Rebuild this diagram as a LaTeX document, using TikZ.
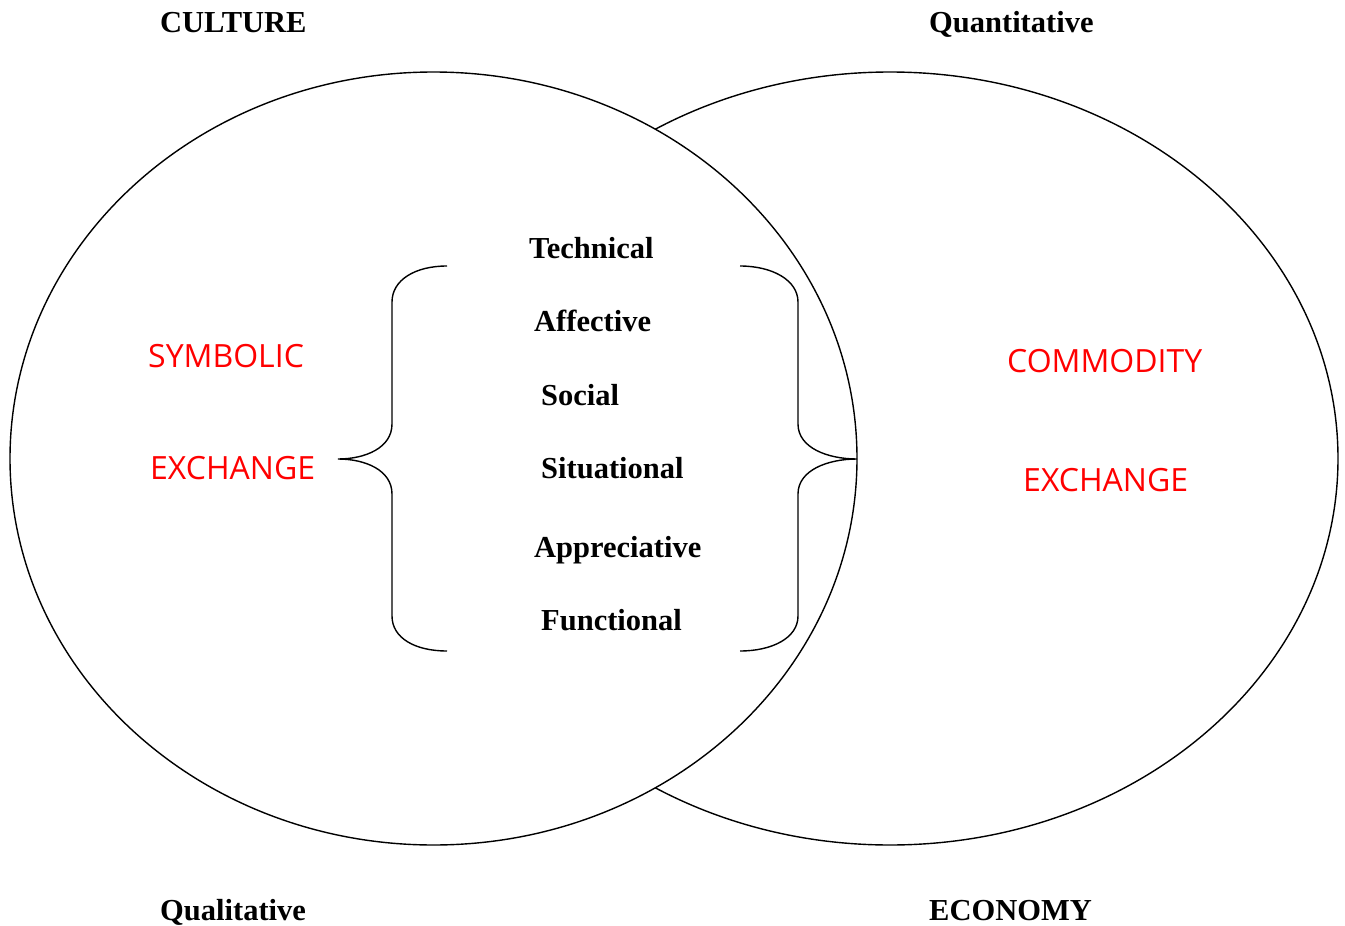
\documentclass[tikz,border=0pt]{standalone}
\usepackage{fontspec}
\setmainfont{Liberation Serif}
\newfontfamily\handfont{Open Sans}
\begin{document}
\begin{tikzpicture}[x=1pt,y=-1pt,
  lbl/.style={anchor=base west,inner sep=0pt,font=\bfseries\fontsize{30.5}{34}\selectfont},
  red lbl/.style={anchor=base west,inner sep=0pt,text=red,font=\handfont\fontsize{32}{36}\selectfont},
  bracestroke/.style={draw=black,line width=1.4pt}]
\useasboundingbox (0,0) rectangle (1345,926);
% economy circle behind, culture circle in front
\draw[line width=1.4pt] (890,458.5) ellipse [x radius=448,y radius=386.5];
\draw[line width=1.4pt,fill=white] (433.5,458.5) ellipse [x radius=423.5,y radius=386.5];
% corner labels
\node[lbl] (culture) at (160,32) {CULTURE};
\node[lbl] (quant) at (929,32) {Quantitative};
\node[lbl] (qual) at (160,920) {Qualitative};
\node[lbl] (economy) at (929,920) {ECONOMY};
% dimensions between the braces
\node[lbl] (tech) at (529,258) {Technical};
\node[lbl] (aff) at (534,331) {Affective};
\node[lbl] (soc) at (541,405) {Social};
\node[lbl] (sit) at (541,478) {Situational};
\node[lbl] (app) at (534,557) {Appreciative};
\node[lbl] (fun) at (541,630) {Functional};
% exchange types
\node[red lbl] (sym) at (148,367) {SYMBOLIC};
\node[red lbl] (exl) at (150,479) {EXCHANGE};
\node[red lbl] (com) at (1007,372) {COMMODITY};
\node[red lbl] (exr) at (1023,491) {EXCHANGE};
% left brace
\coordinate (lt) at (447,266);
\coordinate (ltip) at (338,459);
\coordinate (lb) at (447,651);
\draw[bracestroke] (lt) .. controls (415,266) and (392,280) .. (392,302)
  -- (392,424) .. controls (392,448) and (365,459) .. (ltip)
  .. controls (365,459) and (392,470) .. (392,494)
  -- (392,616) .. controls (392,638) and (415,651) .. (lb);
% right brace
\coordinate (rt) at (740,266);
\coordinate (rtip) at (857,459);
\coordinate (rb) at (740,651);
\draw[bracestroke] (rt) .. controls (772,266) and (798,280) .. (798,302)
  -- (798,424) .. controls (798,448) and (828,459) .. (rtip)
  .. controls (828,459) and (798,470) .. (798,494)
  -- (798,616) .. controls (798,638) and (772,651) .. (rb);
\end{tikzpicture}
\end{document}
